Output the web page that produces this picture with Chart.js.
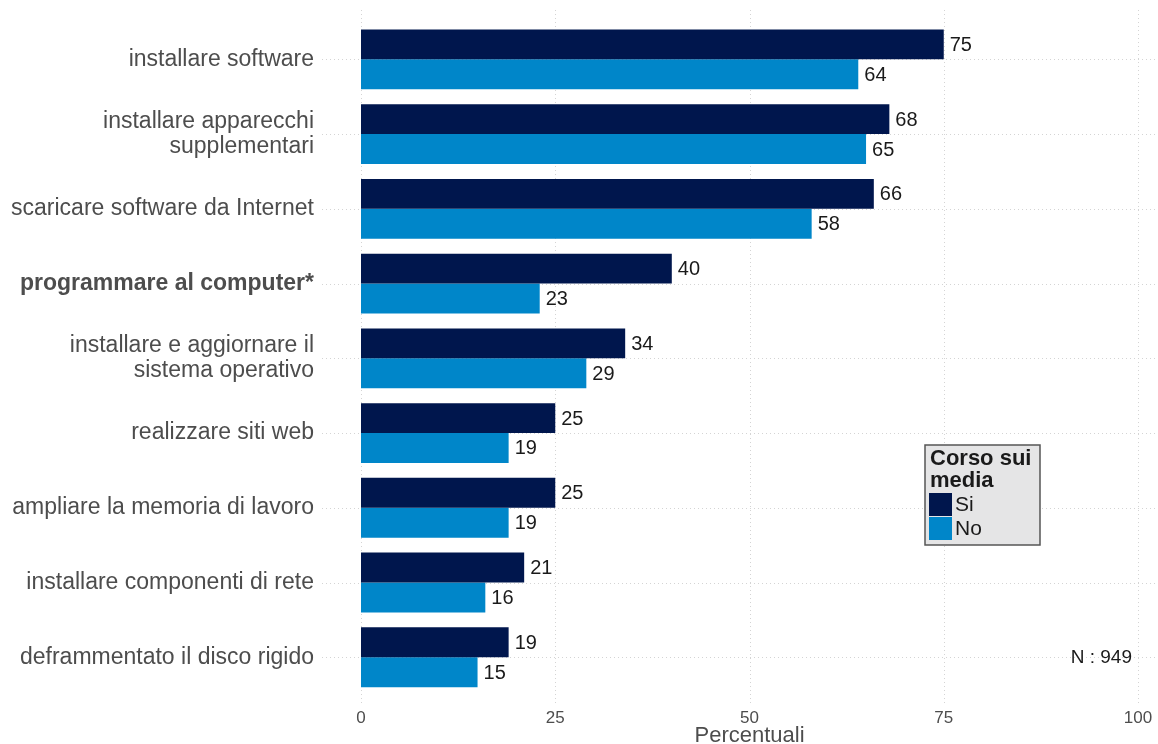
<!DOCTYPE html>
<html>
<head>
<meta charset="utf-8">
<script src="https://cdn.jsdelivr.net/npm/chart.js@4.4.0/dist/chart.umd.min.js"></script>
<style>
  html, body { margin: 0; padding: 0; background: #fff; }
  #wrap { width: 1158px; height: 744px; }
</style>
</head>
<body>
<div id="wrap"><canvas id="chart" width="1158" height="744"></canvas></div>
<script>
// categories, top to bottom
const categories = [
    'installare software',
    ['installare apparecchi', 'supplementari'],
    'scaricare software da Internet',
    'programmare al computer*',
    ['installare e aggiornare il', 'sistema operativo'],
    'realizzare siti web',
    'ampliare la memoria di lavoro',
    'installare componenti di rete',
    'deframmentato il disco rigido'
];
const boldIndex = 3;
const valuesSi = [75, 68, 66, 40, 34, 25, 25, 21, 19];
const valuesNo = [64, 65, 58, 23, 29, 19, 19, 16, 15];
const xTicks = [0, 25, 50, 75, 100];

const FONT = "'Liberation Sans', Arial, Helvetica, sans-serif";
const colorSi = '#00164D';
const colorNo = '#0086C9';

// dotted grid drawn behind the bars, extending past the panel like ggplot
const gridPlugin = {
    id: 'dotGrid',
    beforeDatasetsDraw(chart) {
        const { ctx, scales: { x, y } } = chart;
        ctx.save();
        ctx.strokeStyle = '#d4d4d4';
        ctx.lineWidth = 1;
        ctx.setLineDash([1, 3]);
        xTicks.forEach(v => {
            const px = Math.round(x.getPixelForValue(v)) + 0.5;
            ctx.beginPath();
            ctx.moveTo(px, 10);
            ctx.lineTo(px, 704);
            ctx.stroke();
        });
        categories.forEach((c, i) => {
            const py = Math.round(y.getPixelForValue(i)) + 0.5;
            ctx.beginPath();
            ctx.moveTo(322, py);
            ctx.lineTo(1158, py);
            ctx.stroke();
        });
        ctx.restore();
    }
};

// value labels, legend box and N note
const labelPlugin = {
    id: 'extras',
    afterDatasetsDraw(chart) {
        const { ctx } = chart;
        ctx.save();
        ctx.font = `20px ${FONT}`;
        ctx.fillStyle = '#1a1a1a';
        ctx.textAlign = 'left';
        ctx.textBaseline = 'middle';
        chart.data.datasets.forEach((ds, di) => {
            chart.getDatasetMeta(di).data.forEach((bar, i) => {
                ctx.fillText(String(ds.data[i]), bar.x + 6, bar.y + 1);
            });
        });

        // legend
        ctx.fillStyle = '#e5e5e6';
        ctx.fillRect(925, 445, 115, 100);
        ctx.strokeStyle = '#555';
        ctx.lineWidth = 1.5;
        ctx.strokeRect(925, 445, 115, 100);
        ctx.fillStyle = '#1a1a1a';
        ctx.font = `bold 22px ${FONT}`;
        ctx.fillText('Corso sui', 930, 459);
        ctx.fillText('media', 930, 481);
        ctx.fillStyle = colorSi;
        ctx.fillRect(929, 493, 23, 23);
        ctx.fillStyle = colorNo;
        ctx.fillRect(929, 517, 23, 23);
        ctx.fillStyle = '#1a1a1a';
        ctx.font = `21px ${FONT}`;
        ctx.fillText('Si', 955, 505);
        ctx.fillText('No', 955, 529);

        ctx.font = `19px ${FONT}`;
        ctx.textAlign = 'right';
        ctx.fillText('N : 949', 1132, 658);
        ctx.restore();
    }
};

new Chart(document.getElementById('chart').getContext('2d'), {
    type: 'bar',
    data: {
        labels: categories,
        datasets: [
            { label: 'Si', data: valuesSi, backgroundColor: colorSi },
            { label: 'No', data: valuesNo, backgroundColor: colorNo }
        ]
    },
    options: {
        indexAxis: 'y',
        responsive: false,
        animation: false,
        categoryPercentage: 0.8,
        barPercentage: 1.0,
        layout: { padding: { top: 22, right: 20, bottom: 0, left: 0 } },
        plugins: { legend: { display: false }, tooltip: { enabled: false } },
        scales: {
            x: {
                min: 0,
                max: 100,
                afterBuildTicks: scale => { scale.ticks = xTicks.map(v => ({ value: v })); },
                afterFit: scale => { scale.paddingLeft = 0; scale.paddingRight = 0; },
                grid: { display: false, drawTicks: false },
                border: { display: false },
                ticks: { color: '#4d4d4d', font: { family: FONT, size: 17 }, padding: 14 },
                title: {
                    display: true,
                    text: 'Percentuali',
                    color: '#4d4d4d',
                    font: { family: FONT, size: 22, lineHeight: 1 },
                    padding: { top: -18, bottom: -3 }
                }
            },
            y: {
                afterFit: scale => {
                    scale.width = 361;
                    scale.paddingTop = 0;
                    scale.paddingBottom = 0;
                },
                grid: { display: false, drawTicks: false },
                border: { display: false },
                ticks: {
                    color: '#4d4d4d',
                    padding: 47,
                    font: ctx => ctx.index === boldIndex
                        ? { family: FONT, size: 23, weight: 'bold', lineHeight: 1.09 }
                        : { family: FONT, size: 23, lineHeight: 1.09 }
                }
            }
        }
    },
    plugins: [gridPlugin, labelPlugin]
});
</script>
</body>
</html>
